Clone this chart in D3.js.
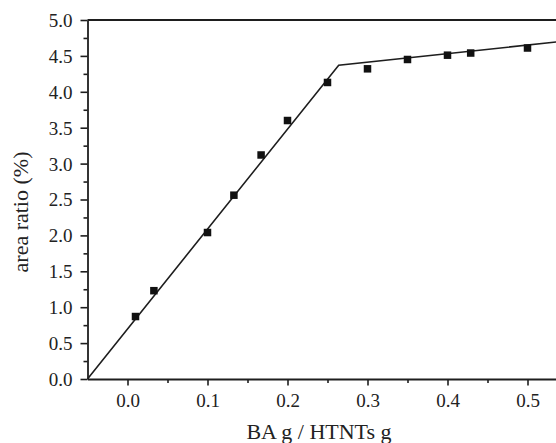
<!DOCTYPE html>
<html>
<head>
<meta charset="utf-8">
<script src="https://cdn.jsdelivr.net/npm/d3@7"></script>
<style>
  html, body { margin: 0; padding: 0; background: #fff; }
  svg { display: block; }
  text { font-family: "Liberation Serif", "Times New Roman", serif; fill: #222; }
</style>
</head>
<body>
<svg id="chart" width="556" height="443"></svg>
<script>
// Measured points: BA loading vs. area ratio
const loading = [0.01, 0.033, 0.1, 0.133, 0.167, 0.2, 0.25, 0.3, 0.35, 0.4, 0.429, 0.5];
const areaRatio = [0.87, 1.23, 2.04, 2.56, 3.12, 3.60, 4.13, 4.32, 4.45, 4.51, 4.54, 4.61];

// Two-segment linear fit (vertices)
const fitX = [-0.05, 0.264, 0.55];
const fitY = [0.0, 4.37, 4.71];

const xMajorTicks = [0.0, 0.1, 0.2, 0.3, 0.4, 0.5];
const xMinorTicks = [0.05, 0.15, 0.25, 0.35, 0.45, 0.55];
const yMajorTicks = [0.0, 0.5, 1.0, 1.5, 2.0, 2.5, 3.0, 3.5, 4.0, 4.5, 5.0];
const yMinorTicks = [0.25, 0.75, 1.25, 1.75, 2.25, 2.75, 3.25, 3.75, 4.25, 4.75];

const svg = d3.select("#chart");
const plotLeft = 87.5, plotTop = 20, plotBottom = 379;

const x = d3.scaleLinear().domain([-0.05, 0.55]).range([plotLeft, plotLeft + 480]);
const y = d3.scaleLinear().domain([0, 5]).range([plotBottom, plotTop]);

const ink = "#1e1e1e";

// Minor ticks
svg.append("g")
  .attr("transform", `translate(0,${plotBottom})`)
  .call(d3.axisBottom(x).tickValues(xMinorTicks).tickSize(4).tickSizeOuter(0).tickFormat(""))
  .call(g => g.select(".domain").remove());
svg.append("g")
  .attr("transform", `translate(${plotLeft},0)`)
  .call(d3.axisLeft(y).tickValues(yMinorTicks).tickSize(4).tickSizeOuter(0).tickFormat(""))
  .call(g => g.select(".domain").remove());

// Major axes
const xAxis = svg.append("g")
  .attr("transform", `translate(0,${plotBottom})`)
  .call(d3.axisBottom(x).tickValues(xMajorTicks).tickSize(6.5).tickSizeOuter(0)
    .tickFormat(d3.format(".1f")).tickPadding(8));
const yAxis = svg.append("g")
  .attr("transform", `translate(${plotLeft},0)`)
  .call(d3.axisLeft(y).tickValues(yMajorTicks).tickSize(7).tickSizeOuter(0)
    .tickFormat(d3.format(".1f")).tickPadding(8));

svg.selectAll(".tick line").attr("stroke", ink).attr("stroke-width", 1.6);
svg.selectAll(".domain").attr("stroke", ink).attr("stroke-width", 1.8);
svg.selectAll(".tick text").style("font-size", "19px").attr("fill", "#222");
yAxis.selectAll(".tick text").attr("dy", "0.34em");

// Top frame line
svg.append("line")
  .attr("x1", x(-0.05)).attr("x2", x(0.55))
  .attr("y1", y(5)).attr("y2", y(5))
  .attr("stroke", ink).attr("stroke-width", 1.8);

// Fit line
const fitData = fitX.map((v, i) => [v, fitY[i]]);
svg.append("path")
  .datum(fitData)
  .attr("fill", "none")
  .attr("stroke", ink)
  .attr("stroke-width", 1.6)
  .attr("d", d3.line().x(d => x(d[0])).y(d => y(d[1])));

// Square markers
const s = 7.5;
svg.append("g").selectAll("rect")
  .data(loading.map((v, i) => [v, areaRatio[i]]))
  .join("rect")
  .attr("x", d => x(d[0]) - s / 2)
  .attr("y", d => y(d[1]) - s / 2)
  .attr("width", s).attr("height", s)
  .attr("fill", "#111");

// Axis titles
svg.append("text")
  .attr("x", 319).attr("y", 439)
  .attr("text-anchor", "middle")
  .style("font-size", "22px")
  .text("BA g / HTNTs g");

svg.append("text")
  .attr("transform", `translate(28,212) rotate(-90)`)
  .attr("text-anchor", "middle")
  .style("font-size", "22px")
  .text("area ratio (%)");
</script>
</body>
</html>
